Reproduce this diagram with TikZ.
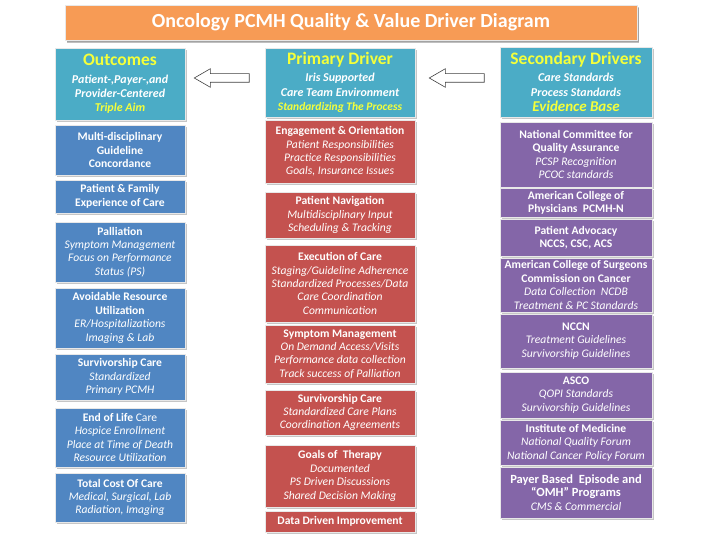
\documentclass[tikz,border=0pt]{standalone}
\usepackage{fontspec}
\setmainfont{Carlito}
\usetikzlibrary{shadows,shapes.arrows}
\definecolor{ttlc}{HTML}{F79B55}
\definecolor{hdrc}{HTML}{4BACC6}
\definecolor{bluec}{HTML}{5086C2}
\definecolor{redc}{HTML}{C4524F}
\definecolor{purc}{HTML}{8466A8}
\definecolor{yelc}{HTML}{F4FF3A}
\newcommand\Bl[1]{\textbf{#1}}
\newcommand\Il[1]{\textit{#1}}
\newcommand\BIl[1]{{\fontsize{12}{14}\selectfont\bfseries\itshape #1}}
\newcommand\HdBig[1]{{\fontsize{17.5}{17}\selectfont\bfseries\color{yelc}#1}}
\begin{document}
\begin{tikzpicture}[x=1pt,y=-1pt,
  base/.style={draw=white!82!gray, line width=0.8pt, text=white, align=center, inner sep=0pt,
    font=\fontsize{11.6}{13.4}\selectfont,
    drop shadow={shadow xshift=2pt, shadow yshift=-2pt, opacity=0.45, fill=gray}},
  hdr/.style={base, fill=hdrc, font=\fontsize{12}{14.4}\selectfont},
  lbox/.style={base, fill=bluec, minimum width=130pt},
  mbox/.style={base, fill=redc, minimum width=150pt},
  rbox/.style={base, fill=purc, minimum width=152pt},
  blockarrow/.style={single arrow, draw=black!75, fill=white, line width=0.6pt,
    shape border rotate=180, minimum height=55pt, minimum width=18pt,
    inner xsep=0pt, inner ysep=4pt, single arrow head extend=5pt, single arrow tip angle=60}
]
\useasboundingbox (0,0) rectangle (720,540);

% title
\node[base, fill=ttlc, minimum width=572pt, minimum height=35pt,
  drop shadow={shadow xshift=1.5pt, shadow yshift=-3pt, opacity=0.5, fill=gray},
  font=\fontsize{20}{22}\selectfont\bfseries] (title) at (351,22.5) {Oncology PCMH Quality \& Value Driver Diagram};

% headers
\node[hdr, minimum width=130pt, minimum height=72pt] (out) at (120,84)
 {\HdBig{Outcomes}\\[3pt]\BIl{Patient-,Payer-,and}\\\BIl{Provider-Centered}\\{\color{yelc}\bfseries\itshape Triple Aim}};
\node[hdr, minimum width=150pt, minimum height=69pt] (prim) at (340,82.5)
 {\HdBig{Primary Driver}\\[3pt]\BIl{Iris Supported}\\\BIl{Care Team Environment}\\{\color{yelc}\fontsize{11.5}{14}\selectfont\bfseries\itshape Standardizing The Process}};
\node[hdr, minimum width=152pt, minimum height=70pt] (sec) at (576,82)
 {\HdBig{Secondary Drivers}\\[3pt]\BIl{Care Standards}\\\BIl{Process Standards}\\[1pt]{\fontsize{15}{14}\selectfont\color{yelc}\bfseries\itshape Evidence Base}};

% arrows
\node[blockarrow] (a1) at (225.5,78) {};
\node[blockarrow] (a2) at (460.5,78) {};

% left column
\node[lbox, minimum height=50pt] (l1) at (120,150) {\Bl{Multi-disciplinary}\\\Bl{Guideline}\\\Bl{Concordance}};
\node[lbox, minimum height=33pt] (l2) at (120,196.5) {\Bl{Patient \& Family}\\\Bl{Experience of Care}};
\node[lbox, minimum height=60pt] (l3) at (120,252) {\Bl{Palliation}\\\Il{Symptom Management}\\\Il{Focus on Performance}\\\Il{Status (PS)}};
\node[lbox, minimum height=60pt] (l4) at (120,318) {\Bl{Avoidable Resource}\\\Bl{Utilization}\\\Il{ER/Hospitalizations}\\\Il{Imaging \& Lab}};
\node[lbox, minimum height=46pt] (l5) at (120,377) {\Bl{Survivorship Care}\\\Il{Standardized}\\\Il{Primary PCMH}};
\node[lbox, minimum height=59pt] (l6) at (120,437.5) {\Bl{End of Life} Care\\\Il{Hospice Enrollment}\\\Il{Place at Time of Death}\\\Il{Resource Utilization}};
\node[lbox, minimum height=49pt] (l7) at (120,497.5) {\Bl{Total Cost Of Care}\\\Il{Medical, Surgical, Lab}\\\Il{Radiation, Imaging}};

% middle column
\node[mbox, minimum height=63pt] (m1) at (340,151.5) {\Bl{Engagement \& Orientation}\\\Il{Patient Responsibilities}\\\Il{Practice Responsibilities}\\\Il{Goals, Insurance Issues}};
\node[mbox, minimum height=46pt] (m2) at (340,215) {\Bl{Patient Navigation}\\\Il{Multidisciplinary Input}\\\Il{Scheduling \& Tracking}};
\node[mbox, minimum height=77pt] (m3) at (340,283.5) {\Bl{Execution of Care}\\\Il{Staging/Guideline Adherence}\\\Il{Standardized Processes/Data}\\\Il{Care Coordination}\\\Il{Communication}};
\node[mbox, minimum height=58pt] (m4) at (340,354) {\Bl{Symptom Management}\\\Il{On Demand Access/Visits}\\\Il{Performance data collection}\\\Il{Track success of Palliation}};
\node[mbox, minimum height=45pt] (m5) at (340,412.5) {\Bl{Survivorship Care}\\\Il{Standardized Care Plans}\\\Il{Coordination Agreements}};
\node[mbox, minimum height=62pt] (m6) at (340,476) {\Bl{Goals of\ \ Therapy}\\\Il{Documented}\\\Il{PS Driven Discussions}\\\Il{Shared Decision Making}};
\node[mbox, minimum height=21pt] (m7) at (340,521.5) {\Bl{Data Driven Improvement}};

% right column
\node[rbox, minimum height=65pt] (r1) at (576,154.5) {\Bl{National Committee for}\\\Bl{Quality Assurance}\\\Il{PCSP Recognition}\\\Il{PCOC standards}};
\node[rbox, minimum height=29pt] (r2) at (576,203) {\Bl{American College of}\\\Bl{Physicians\ \ PCMH-N}};
\node[rbox, minimum height=37pt] (r3) at (576,237.5) {\Bl{Patient Advocacy}\\\Bl{NCCS, CSC, ACS}};
\node[rbox, minimum height=54pt] (r4) at (576,285) {\Bl{American College of Surgeons}\\\Bl{Commission on Cancer}\\\Il{Data Collection\ \ NCDB}\\\Il{Treatment \& PC Standards}};
\node[rbox, minimum height=54pt] (r5) at (576,341) {\Bl{NCCN}\\\Il{Treatment Guidelines}\\\Il{Survivorship Guidelines}};
\node[rbox, minimum height=46pt] (r6) at (576,395) {\Bl{ASCO}\\\Il{QOPI Standards}\\\Il{Survivorship Guidelines}};
\node[rbox, minimum height=45pt] (r7) at (576,442.5) {\Bl{Institute of Medicine}\\\Il{National Quality Forum}\\\Il{National Cancer Policy Forum}};
\node[rbox, minimum height=51pt] (r8) at (576,492.5) {{\fontsize{12.5}{14.5}\selectfont\bfseries Payer Based\ \ Episode and}\\{\fontsize{12.5}{14.5}\selectfont\bfseries ``OMH'' Programs}\\\Il{CMS \& Commercial}};
\end{tikzpicture}
\end{document}
